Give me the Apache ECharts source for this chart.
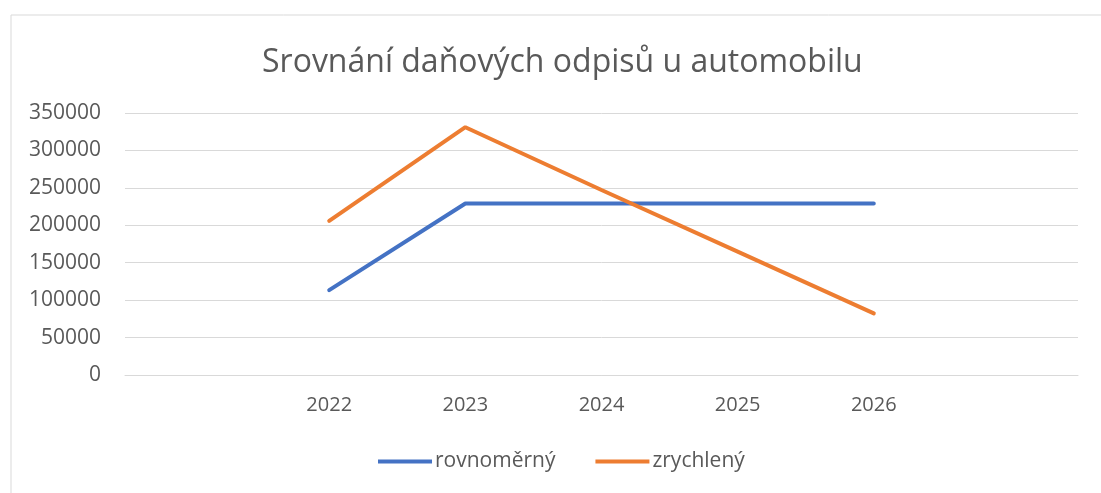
<!DOCTYPE html>
<html>
<head>
<meta charset="utf-8">
<script src="https://cdn.jsdelivr.net/npm/echarts@6/dist/echarts.min.js"></script>
<style>
html, body { margin: 0; padding: 0; background: #fff; }
#chart { width: 1101px; height: 493px; }
</style>
</head>
<body>
<div id="chart"></div>
<script>
// data (empty categories at both ends, as in the sheet)
var years = ['', '2022', '2023', '2024', '2025', '2026', ''];
var rovnomerny = [null, 113300, 229175, 229175, 229175, 229175, null];
var zrychleny = [null, 206000, 331000, 247200, 164800, 82400, null];

var textColor = '#595959';
var fontFamily = '"Open Sans", "Noto Sans", sans-serif';

var chart = echarts.init(document.getElementById('chart'));

var option = {
	animation: false,
	backgroundColor: '#fff',
	title: {
		text: 'Srovnání daňových odpisů u automobilu',
		left: 257,
		top: 42,
		textStyle: {
			fontFamily: fontFamily,
			fontSize: 32,
			fontWeight: 'normal',
			color: textColor
		}
	},
	legend: {
		bottom: 16,
		left: 373,
		itemWidth: 54,
		itemHeight: 4,
		itemGap: 40,
		icon: 'rect',
		textStyle: {
			fontFamily: fontFamily,
			fontSize: 21,
			color: textColor,
			padding: [0, 0, 0, -2]
		},
		data: ['rovnoměrný', 'zrychlený']
	},
	grid: {
		left: 125,
		right: 23,
		top: 113,
		bottom: 118
	},
	xAxis: {
		type: 'category',
		data: years,
		boundaryGap: true,
		axisLine: { lineStyle: { color: '#d9d9d9' } },
		axisTick: { show: false },
		axisLabel: {
			fontFamily: fontFamily,
			fontSize: 20,
			color: textColor,
			margin: 20
		}
	},
	yAxis: {
		type: 'value',
		min: 0,
		max: 350000,
		interval: 50000,
		axisLine: { show: false },
		axisTick: { show: false },
		splitLine: { lineStyle: { color: '#d9d9d9', width: 1 } },
		axisLabel: {
			fontFamily: fontFamily,
			fontSize: 21,
			color: textColor,
			margin: 24,
			formatter: function (v) { return String(v); }
		}
	},
	// sheet border behind the chart
	graphic: [{
		type: 'polyline',
		shape: { points: [[11, 493], [11, 15], [1101, 15]] },
		style: { stroke: '#d9d9d9', fill: null, lineWidth: 1 },
		z: -1
	}],
	series: [
		{
			name: 'rovnoměrný',
			type: 'line',
			data: rovnomerny,
			symbol: 'none',
			lineStyle: { color: '#4472C4', width: 4, cap: 'round' },
			itemStyle: { color: '#4472C4' }
		},
		{
			name: 'zrychlený',
			type: 'line',
			data: zrychleny,
			symbol: 'none',
			lineStyle: { color: '#ED7D31', width: 4, cap: 'round' },
			itemStyle: { color: '#ED7D31' }
		}
	]
};
chart.setOption(option);
</script>
</body>
</html>
